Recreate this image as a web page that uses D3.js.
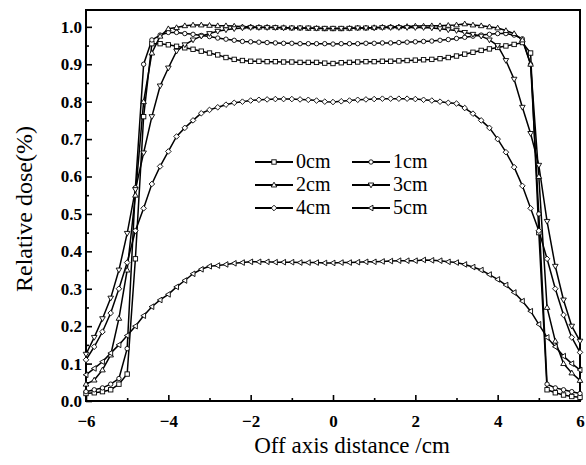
<!DOCTYPE html>
<html>
<head>
<meta charset="utf-8">
<script src="https://cdn.jsdelivr.net/npm/d3@7/dist/d3.min.js"></script>
<style>
  body { margin: 0; background: #fff; }
  svg { display: block; }
</style>
</head>
<body>
<div id="chart"></div>
<script>
// off axis positions (cm)
var xPos = [-6.0,-5.8,-5.6,-5.4,-5.2,-5.0,-4.8,-4.6,-4.4,-4.2,-4.0,-3.8,-3.6,-3.4,-3.2,-3.0,-2.8,-2.6,-2.4,-2.2,
  -2.0,-1.8,-1.6,-1.4,-1.2,-1.0,-0.8,-0.6,-0.4,-0.2,0.0,0.2,0.4,0.6,0.8,1.0,1.2,1.4,1.6,1.8,
  2.0,2.2,2.4,2.6,2.8,3.0,3.2,3.4,3.6,3.8,4.0,4.2,4.4,4.6,4.8,5.0,5.2,5.4,5.6,5.8,6.0];

var dose0 = [0.02,0.022,0.025,0.03,0.045,0.072,0.38,0.76,0.955,0.955,0.952,0.948,0.944,0.94,0.935,0.93,0.925,0.918,0.913,0.91,
  0.908,0.908,0.907,0.907,0.906,0.906,0.905,0.905,0.905,0.903,0.902,0.904,0.905,0.906,0.907,0.907,0.908,0.908,0.909,0.91,
  0.911,0.912,0.913,0.915,0.918,0.922,0.927,0.932,0.937,0.941,0.945,0.949,0.953,0.958,0.93,0.45,0.03,0.022,0.016,0.012,0.01];

var dose1 = [0.025,0.03,0.035,0.045,0.06,0.14,0.57,0.9,0.965,0.978,0.985,0.985,0.982,0.98,0.977,0.974,0.97,0.967,0.964,0.961,
  0.96,0.959,0.958,0.957,0.956,0.956,0.955,0.955,0.955,0.955,0.954,0.955,0.955,0.955,0.956,0.956,0.957,0.957,0.958,0.959,
  0.96,0.961,0.962,0.964,0.966,0.969,0.972,0.975,0.978,0.98,0.982,0.982,0.978,0.968,0.9,0.5,0.045,0.035,0.03,0.025,0.02];

var dose2 = [0.045,0.056,0.083,0.123,0.221,0.35,0.55,0.8,0.93,0.975,0.995,0.998,1.003,1.005,1.005,1.004,1.003,1.003,1.002,1.0,
  1.0,0.999,0.999,0.998,0.998,0.997,0.997,0.996,0.996,0.995,0.995,0.995,0.996,0.997,0.997,0.998,0.999,1.0,1.0,1.001,
  1.002,1.002,1.003,1.003,1.004,1.005,1.008,1.005,1.003,1.0,0.997,0.99,0.982,0.965,0.9,0.6,0.25,0.16,0.1,0.075,0.055];

var dose3 = [0.125,0.17,0.22,0.275,0.35,0.448,0.565,0.663,0.76,0.842,0.89,0.935,0.952,0.965,0.975,0.982,0.988,0.992,0.995,0.997,
  0.998,0.998,0.998,0.998,0.997,0.997,0.997,0.997,0.996,0.996,0.996,0.996,0.996,0.997,0.997,0.997,0.998,0.998,0.998,0.998,
  0.998,0.998,0.997,0.995,0.992,0.99,0.985,0.98,0.975,0.965,0.95,0.91,0.86,0.785,0.715,0.63,0.48,0.36,0.27,0.2,0.16];

var dose4 = [0.11,0.145,0.185,0.235,0.3,0.37,0.455,0.515,0.58,0.627,0.667,0.707,0.73,0.75,0.769,0.778,0.785,0.792,0.797,0.8,
  0.803,0.805,0.806,0.807,0.807,0.807,0.806,0.805,0.803,0.8,0.799,0.801,0.803,0.805,0.806,0.807,0.808,0.808,0.808,0.808,
  0.807,0.805,0.803,0.8,0.797,0.795,0.783,0.768,0.75,0.73,0.7,0.665,0.625,0.575,0.515,0.455,0.38,0.3,0.23,0.17,0.13];

var dose5 = [0.07,0.087,0.105,0.128,0.15,0.175,0.2,0.228,0.252,0.27,0.285,0.305,0.322,0.34,0.352,0.36,0.362,0.365,0.368,0.37,
  0.372,0.372,0.372,0.371,0.371,0.371,0.37,0.37,0.37,0.369,0.369,0.37,0.37,0.371,0.372,0.372,0.373,0.374,0.375,0.375,
  0.375,0.377,0.376,0.375,0.372,0.37,0.365,0.358,0.35,0.338,0.325,0.31,0.29,0.267,0.24,0.205,0.17,0.145,0.12,0.1,0.083];

var seriesNames = ["0cm", "1cm", "2cm", "3cm", "4cm", "5cm"];
var seriesDose = [dose0, dose1, dose2, dose3, dose4, dose5];
var seriesSymbols = ["square", "circle", "up", "down", "diamond", "left"];

var xTicks = [-6, -4, -2, 0, 2, 4, 6];
var xMinor = [-5, -3, -1, 1, 3, 5];
var yTicks = [0, 0.1, 0.2, 0.3, 0.4, 0.5, 0.6, 0.7, 0.8, 0.9, 1.0];
var yMinor = [0.05, 0.15, 0.25, 0.35, 0.45, 0.55, 0.65, 0.75, 0.85, 0.95];

var serif = "'Liberation Serif', 'DejaVu Serif', serif";

var W = 586, H = 465;
var margin = { top: 10, right: 6, bottom: 64, left: 86 };
var width = W - margin.left - margin.right,
    height = H - margin.top - margin.bottom;

var svg = d3.select("#chart").append("svg")
    .attr("width", W).attr("height", H);
var g = svg.append("g")
    .attr("transform", "translate(" + margin.left + "," + margin.top + ")");

var x = d3.scaleLinear().domain([-6, 6]).range([0, width]);
var y = d3.scaleLinear().domain([0, 1.045]).range([height, 0]);

// axes, ticks inward
g.append("g").attr("transform", "translate(0," + height + ")")
    .call(d3.axisBottom(x).tickValues(xTicks).tickSize(-6).tickPadding(14)
        .tickFormat(d3.format("d")));
g.append("g").attr("transform", "translate(0," + height + ")")
    .call(d3.axisBottom(x).tickValues(xMinor).tickSize(-3).tickFormat(""));
g.append("g")
    .call(d3.axisLeft(y).tickValues(yTicks).tickSize(-6).tickPadding(4)
        .tickFormat(d3.format(".1f")));
g.append("g")
    .call(d3.axisLeft(y).tickValues(yMinor).tickSize(-3).tickFormat(""));

g.selectAll(".domain").remove();
g.selectAll(".tick line").attr("stroke", "#000").attr("stroke-width", 1.6);
g.selectAll(".tick text")
    .style("font-family", serif)
    .style("font-weight", "bold")
    .style("font-size", "17px")
    .attr("fill", "#000");

// frame
g.append("rect")
    .attr("x", 0).attr("y", 0)
    .attr("width", width).attr("height", height)
    .attr("fill", "none").attr("stroke", "#000").attr("stroke-width", 2);

function drawMarker(sel, type, cx, cy) {
    var s = 2.2;
    if (type == "square") {
        sel.append("rect").attr("x", cx - s).attr("y", cy - s)
            .attr("width", 2 * s).attr("height", 2 * s);
    } else if (type == "circle") {
        sel.append("circle").attr("cx", cx).attr("cy", cy).attr("r", s);
    } else {
        var pts;
        var r = 2.8;
        if (type == "up") pts = [[cx, cy - r], [cx + r, cy + r * 0.7], [cx - r, cy + r * 0.7]];
        else if (type == "down") pts = [[cx, cy + r], [cx + r, cy - r * 0.7], [cx - r, cy - r * 0.7]];
        else if (type == "left") pts = [[cx - r, cy], [cx + r * 0.7, cy - r], [cx + r * 0.7, cy + r]];
        else pts = [[cx, cy - r], [cx + r, cy], [cx, cy + r], [cx - r, cy]];
        sel.append("polygon").attr("points", pts.map(function(p) { return p.join(","); }).join(" "));
    }
}

var line = d3.line()
    .x(function(d) { return x(d[0]); })
    .y(function(d) { return y(d[1]); });

// curves
seriesDose.forEach(function(dose, k) {
    var pts = xPos.map(function(v, i) { return [v, dose[i]]; });
    g.append("path")
        .datum(pts)
        .attr("d", line)
        .attr("fill", "none")
        .attr("stroke", "#000")
        .attr("stroke-width", 1.5);
});
seriesDose.forEach(function(dose, k) {
    var mg = g.append("g").attr("fill", "#fff").attr("stroke", "#000").attr("stroke-width", 0.9);
    xPos.forEach(function(v, i) {
        drawMarker(mg, seriesSymbols[k], x(v), y(dose[i]));
    });
});

// legend
var legend = svg.append("g");
seriesNames.forEach(function(name, k) {
    var col = k % 2, row = Math.floor(k / 2);
    var lx = 255 + col * 97, ly = 162 + row * 23;
    legend.append("line")
        .attr("x1", lx).attr("x2", lx + 38)
        .attr("y1", ly).attr("y2", ly)
        .attr("stroke", "#000").attr("stroke-width", 2);
    var mg = legend.append("g").attr("fill", "#fff").attr("stroke", "#000").attr("stroke-width", 0.9);
    drawMarker(mg, seriesSymbols[k], lx + 19, ly);
    legend.append("text")
        .attr("x", lx + 41).attr("y", ly + 6)
        .style("font-family", serif)
        .style("font-size", "20px")
        .text(name);
});

// axis titles
svg.append("text")
    .attr("x", 352)
    .attr("y", 453)
    .style("text-anchor", "middle")
    .style("font-family", serif)
    .style("font-size", "23px")
    .text("Off axis distance /cm");

svg.append("text")
    .attr("transform", "rotate(-90)")
    .attr("x", -209)
    .attr("y", 32)
    .style("text-anchor", "middle")
    .style("font-family", serif)
    .style("font-size", "24px")
    .text("Relative dose(%)");
</script>
</body>
</html>
